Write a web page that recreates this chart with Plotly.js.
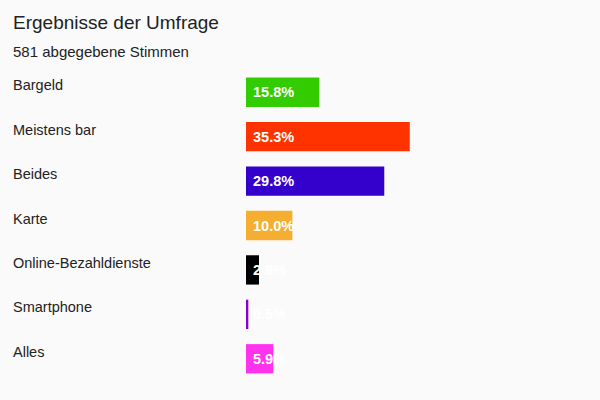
<!DOCTYPE html>
<html>
<head>
<meta charset="utf-8">
<script src="https://cdn.plot.ly/plotly-3.0.1.min.js"></script>
<style>
  html, body { margin: 0; padding: 0; background: #fafafa; }
  #chart { width: 600px; height: 400px; }
</style>
</head>
<body>
<div id="chart"></div>
<script>
// survey answers (share of 581 votes, in percent)
const categories = ['Bargeld', 'Meistens bar', 'Beides', 'Karte', 'Online-Bezahldienste', 'Smartphone', 'Alles'];
const shares = [15.8, 35.3, 29.8, 10.0, 2.8, 0.5, 5.9];
const valueLabels = ['15.8%', '35.3%', '29.8%', '10.0%', '2.8%', '0.5%', '5.9%'];
const barColors = ['#33cc00', '#ff3300', '#3300cc', '#f5ae30', '#000000', '#8800cc', '#ff33ee'];

const FONT = '"Liberation Sans", Arial, sans-serif';
const pxPerPct = 4.64;   // bar length per percent
const barStart = 246;    // pixel where the bars begin

const trace = {
    type: 'bar',
    orientation: 'h',
    x: shares,
    y: categories,
    marker: { color: barColors },
    hoverinfo: 'y+x',
    width: 0.66
};

const annotations = [];
categories.forEach((cat, i) => {
    annotations.push({
        xref: 'paper', yref: 'y',
        x: 13 / 600, y: cat,
        xanchor: 'left', yanchor: 'middle',
        yshift: 7,
        borderpad: 0, borderwidth: 0,
        text: cat,
        showarrow: false,
        font: { family: FONT, size: 14.5, color: '#222222' }
    });
    annotations.push({
        xref: 'x', yref: 'y',
        x: 0, y: cat,
        xanchor: 'left', yanchor: 'middle',
        xshift: 5,
        text: '<b>' + valueLabels[i] + '</b>',
        showarrow: false,
        font: { family: FONT, size: 14.5, color: '#ffffff' }
    });
});

annotations.push({
    xref: 'paper', yref: 'paper',
    x: 13 / 600, y: (380.6 - 51) / 310.8,
    xanchor: 'left', yanchor: 'middle',
    xshift: -2,
    text: '581 abgegebene Stimmen',
    showarrow: false,
    font: { family: FONT, size: 15, color: '#222222' }
});

const layout = {
    width: 600,
    height: 400,
    paper_bgcolor: '#fafafa',
    plot_bgcolor: '#fafafa',
    showlegend: false,
    title: {
        text: 'Ergebnisse der Umfrage',
        font: { family: FONT, size: 19, color: '#222222' },
        xref: 'container', yref: 'container',
        x: 13 / 600, xanchor: 'left',
        y: 1 - 22 / 400, yanchor: 'middle'
    },
    xaxis: {
        range: [-barStart / pxPerPct, (600 - barStart) / pxPerPct],
        visible: false,
        fixedrange: true
    },
    yaxis: {
        type: 'category',
        autorange: 'reversed',
        visible: false,
        fixedrange: true
    },
    margin: { l: 0, r: 0, t: 70, b: 19 },
    annotations: annotations
};

Plotly.newPlot('chart', [trace], layout, { displayModeBar: false, staticPlot: true });
</script>
</body>
</html>
